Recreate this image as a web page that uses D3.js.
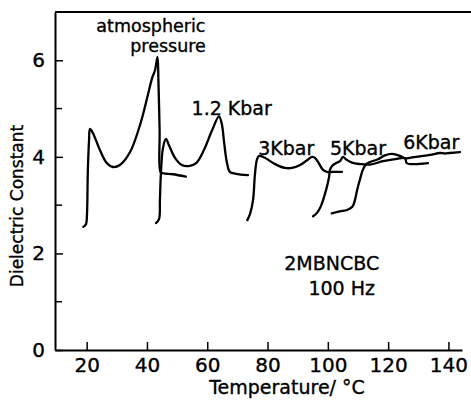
<!DOCTYPE html>
<html>
<head>
<meta charset="utf-8">
<script src="https://cdn.jsdelivr.net/npm/d3@7"></script>
<style>
  body { margin: 0; background: #fff; }
  text { font-family: 'DejaVu Sans', sans-serif; fill: #000; stroke: #000; stroke-width: 0.35px; }
</style>
</head>
<body>
<svg id="chart" width="471" height="401"></svg>
<script>
// curves: [temperature °C, dielectric constant]
const atmospheric = [[18.9,2.55],[19.8,2.61],[20.1,2.8],[20.4,3.73],[20.8,4.35],[21.1,4.58],[22.1,4.49],[24.4,4.14],
  [26.7,3.87],[28.7,3.79],[31.0,3.83],[34.4,4.10],[37.7,4.66],[40.3,5.28],[41.7,5.63],[42.7,5.80],[43.5,6.07],
  [43.8,5.59],[44.2,4.55],[44.5,3.69],[45.3,3.66],[48.6,3.64],[52.9,3.59]];
const kbar12 = [[43.0,2.63],[44.0,2.71],[44.3,3.11],[44.6,3.62],[45.3,4.18],[46.3,4.37],[47.3,4.24],[49.3,3.98],
  [51.6,3.83],[53.9,3.81],[56.3,3.87],[58.9,4.14],[61.6,4.55],[63.9,4.84],[64.9,4.66],[65.5,4.35],[66.5,3.89],
  [67.5,3.69],[69.5,3.65],[73.5,3.62]];
const kbar3 = [[73.3,2.69],[74.2,2.82],[75.2,3.11],[75.8,3.62],[76.5,3.95],[77.2,4.02],[79.1,3.98],[82.5,3.85],
  [85.8,3.77],[88.1,3.77],[90.8,3.83],[93.1,3.93],[94.7,4.00],[95.7,3.98],[96.7,3.90],[98.4,3.73],[99.7,3.69],
  [102.4,3.69],[104.7,3.69]];
const kbar5 = [[95.1,2.77],[96.4,2.84],[97.7,2.98],[99.4,3.31],[100.4,3.58],[100.7,3.73],[101.4,3.81],[102.7,3.87],
  [104.0,3.91],[105.0,4.00],[106.0,3.95],[108.0,3.88],[110.7,3.85],[114.0,3.84],[118.3,3.91],[122.9,3.96],
  [125.6,3.97],[126.2,3.87],[133.2,3.87]];
const kbar6 = [[101.3,2.83],[104.0,2.87],[106.4,2.90],[108.2,2.97],[109.0,3.11],[109.7,3.31],[110.6,3.52],
  [111.6,3.73],[112.6,3.84],[113.9,3.89],[116.6,3.95],[118.9,4.03],[121.3,4.06],[123.9,4.02],[125.6,3.97],
  [127.2,3.98],[130.5,4.01],[133.9,4.04],[137.2,4.08],[138.8,4.07],[140.5,4.08],[143.8,4.10]];

const xTicks = [20, 40, 60, 80, 100, 120, 140];
const yTicks = [0, 2, 4, 6];
const yMinor = [1, 3, 5];

// text labels: [text, T, eps, anchor, font size]
const labels = [
  ['atmospheric', 41.3, 6.59, 'middle', 17.5],
  ['pressure', 47.0, 6.18, 'middle', 17.5],
  ['1.2 Kbar', 54.8, 4.87, 'start', 19],
  ['3Kbar', 76.9, 4.04, 'start', 19],
  ['5Kbar', 100.7, 4.04, 'start', 19],
  ['6Kbar', 125.0, 4.16, 'start', 19],
  ['2MBNCBC', 101.3, 1.66, 'middle', 19],
  ['100 Hz', 104.6, 1.14, 'middle', 19]
];

const svg = d3.select('#chart');
const W = 471;

const x = d3.scaleLinear().domain([9.5, 144.5]).range([55, 462]);
const y = d3.scaleLinear().domain([0, 7]).range([350, 12]);

// top line of the frame
svg.append('line').attr('x1', x(9.5)).attr('x2', W).attr('y1', y(7)).attr('y2', y(7))
  .attr('stroke', '#000').attr('stroke-width', 2);

let xAxis = d3.axisBottom(x).tickValues(xTicks).tickSize(-8).tickPadding(8).tickSizeOuter(0)
  .tickFormat(d3.format('d'));
let gx = svg.append('g').attr('transform', 'translate(0,' + y(0) + ')').call(xAxis);
gx.select('.domain').attr('stroke-width', 2);
gx.selectAll('line').attr('stroke-width', 1.5);
gx.selectAll('text').style('font-size', '20px').attr('font-family', null);

let yAxis = d3.axisLeft(y).tickValues(yTicks).tickSize(-8).tickPadding(10).tickSizeOuter(0)
  .tickFormat(d3.format('d'));
let gy = svg.append('g').attr('transform', 'translate(' + x(9.5) + ',0)').call(yAxis);
gy.select('.domain').attr('stroke-width', 2);
gy.selectAll('line').attr('stroke-width', 1.5);
gy.selectAll('text').style('font-size', '20px').attr('font-family', null);

gy.selectAll('.minor').data(yMinor).enter().append('line')
  .attr('x1', 0).attr('x2', 7).attr('y1', d => y(d)).attr('y2', d => y(d))
  .attr('stroke', '#000').attr('stroke-width', 1.5);

// axis titles
svg.append('text').attr('x', 287).attr('y', 394).attr('text-anchor', 'middle')
  .style('font-size', '19px').text('Temperature/ °C');
svg.append('text').attr('transform', 'translate(23,206) rotate(-90)').attr('text-anchor', 'middle')
  .style('font-size', '17px').text('Dielectric Constant');

// curves
const line = d3.line().x(d => x(d[0])).y(d => y(d[1])).curve(d3.curveCatmullRom.alpha(0.5));
[atmospheric, kbar12, kbar3, kbar5, kbar6].forEach(s => {
  svg.append('path').attr('d', line(s)).attr('fill', 'none').attr('stroke', '#000')
    .attr('stroke-width', 2.3).attr('stroke-linejoin', 'round').attr('stroke-linecap', 'round');
});

// labels
svg.selectAll('.lbl').data(labels).enter().append('text').attr('class', 'lbl')
  .attr('x', d => x(d[1])).attr('y', d => y(d[2])).attr('text-anchor', d => d[3])
  .style('font-size', d => d[4] + 'px')
  .text(d => d[0]);
</script>
</body>
</html>
